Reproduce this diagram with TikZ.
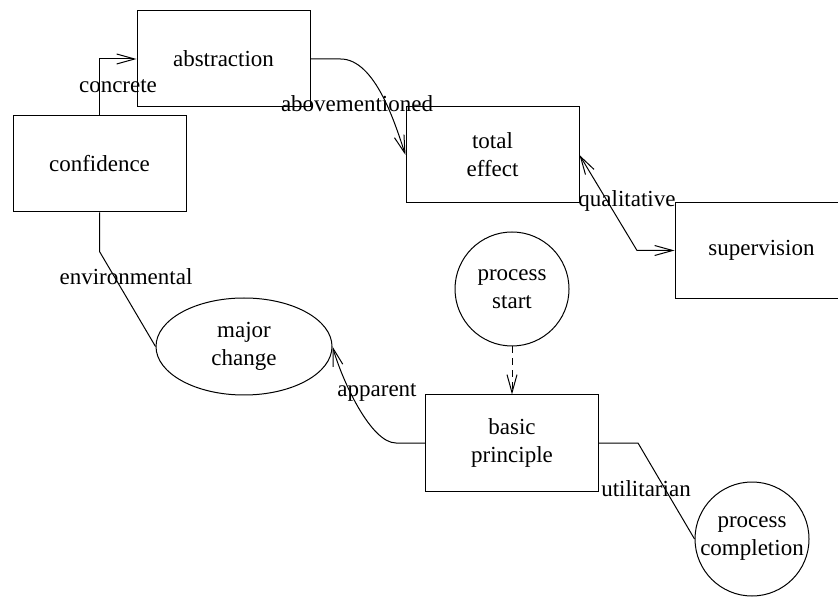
\documentclass[tikz,border=0pt]{standalone}
\usepackage{fontspec}
\setmainfont{LiberationSerif}[Extension=.ttf, UprightFont=*-Regular, BoldFont=*-Bold]
\usetikzlibrary{arrows.meta,shapes.geometric}

\begin{document}
\begin{tikzpicture}[x=0.5pt, y=-0.5pt,
  font=\rmfamily\fontsize{11.5}{14}\selectfont,
  box/.style={draw, line width=0.5pt, minimum width=86.5pt, minimum height=48pt, align=center},
  roundnode/.style={draw, circle, line width=0.5pt, inner sep=0pt, minimum size=57pt, align=center},
  oval/.style={draw, ellipse, line width=0.5pt, minimum width=88pt, minimum height=48.5pt, align=center},
  link/.style={line width=0.5pt},
  arr/.style={link, -{Straight Barb[length=9pt,width=5pt]}},
  dblarr/.style={link, {Straight Barb[length=9pt,width=5pt]}-{Straight Barb[length=9pt,width=5pt]}}]
  \useasboundingbox (0,0) rectangle (838,597);
  % Boxes
  \node[box] (abstraction) at (223.5,59) {abstraction};
  \node[box] (confidence) at (99.5,164) {confidence};
  \node[box] (totaleffect) at (492.5,155) {total\\effect};
  \node[box] (supervision) at (761.5,250.5) {supervision};
  \node[box] (basicprinciple) at (512,443) {basic\\principle};
  % Ellipse and circles
  \node[oval] (majorchange) at (244,346.5) {major\\change};
  \node[roundnode] (processstart) at (512,289) {process\\start};
  \node[roundnode] (processcompletion) at (752,539) {process\\completion};
  % Connectors
  \draw[arr] (confidence.north) |- (abstraction.west);
  \draw[arr] (abstraction.east) -- ++(30,0) .. controls +(35,0) and +(-10,-30) .. (totaleffect.west);
  \coordinate (qbend) at (637,250.5);
  \draw[dblarr] (totaleffect.east) -- (qbend) -- (supervision.west);
  \draw[arr, dashed, dash pattern=on 3.5pt off 2.5pt] (processstart.south) -- (basicprinciple.north);
  \draw[arr] (basicprinciple.west) -- ++(-29,0) .. controls +(-25,0) and +(10,35) .. (majorchange.east);
  \draw[link] (basicprinciple.east) -- ++(39,0) -- (processcompletion.west);
  \draw[link] (confidence.south) -- ++(0,39) -- (majorchange.west);
  % Edge labels
  \node (lconcrete) at (118,86) {concrete};
  \node (labovementioned) at (357,104) {abovementioned};
  \node (lqualitative) at (627,201) {qualitative};
  \node (lenvironmental) at (126,277) {environmental};
  \node (lapparent) at (377,392) {apparent};
  \node (lutilitarian) at (646,489) {utilitarian};
\end{tikzpicture}
\end{document}
